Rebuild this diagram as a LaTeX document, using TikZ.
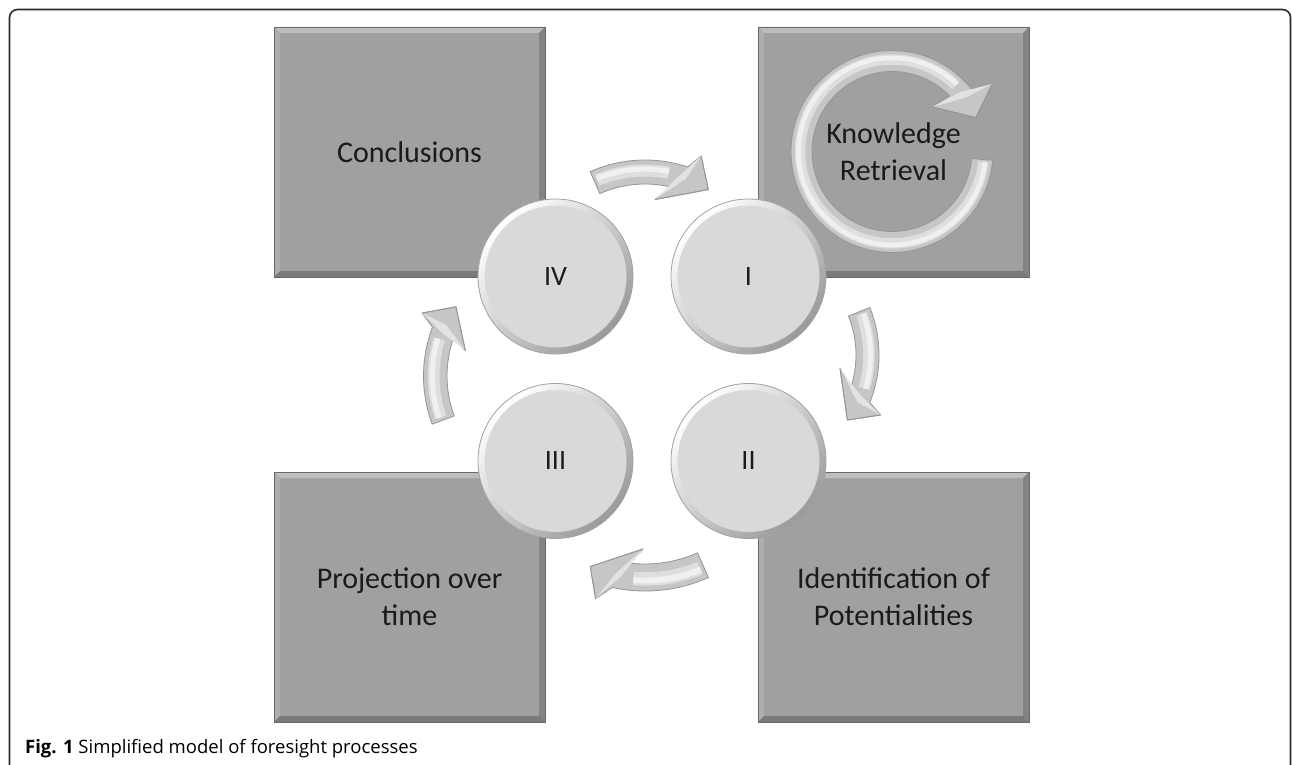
\documentclass[tikz,border=0pt]{standalone}
\usepackage{fontspec}
\setmainfont{Carlito}
\newfontfamily\capfont{Open Sans}
\usetikzlibrary{calc}
\definecolor{sqfill}{HTML}{A0A0A0}
\definecolor{sqedge}{HTML}{6A6A6A}
\definecolor{sqlight}{HTML}{BDBDBD}
\definecolor{sqlightb}{HTML}{AEAEAE}
\definecolor{sqdark}{HTML}{7A7A7A}
\definecolor{sqdarkb}{HTML}{838383}
\definecolor{cfill}{HTML}{D9D9D9}
\definecolor{cedge}{HTML}{A2A2A2}
\definecolor{rimdark}{HTML}{9A9A9A}
\definecolor{afill}{HTML}{C6C6C6}
\definecolor{aedge}{HTML}{959595}
\definecolor{ahigh}{HTML}{DEDEDE}
\definecolor{ahightwo}{HTML}{F0F0F0}
\definecolor{afacet}{HTML}{E2E2E2}
\definecolor{txt}{HTML}{1A1A1A}
\definecolor{framecol}{HTML}{2B2B2B}

\newcommand\bvw{6}
\newcommand\bxt{15}
\newcommand\bevelbox[1]{%
  \fill[sqlight] (#1.north west) -- (#1.north east) -- ([shift={(-\bvw,\bvw)}]#1.north east) -- ([shift={(\bvw,\bvw)}]#1.north west) -- cycle;
  \fill[sqlightb] (#1.north west) -- ([shift={(\bvw,\bvw)}]#1.north west) -- ([shift={(\bvw,-\bvw)}]#1.south west) -- (#1.south west) -- cycle;
  \fill[sqdark] (#1.south west) -- ([shift={(\bvw,-\bvw)}]#1.south west) -- ([shift={(-\bvw,-\bvw)}]#1.south east) -- (#1.south east) -- cycle;
  \fill[sqdarkb] (#1.north east) -- (#1.south east) -- ([shift={(-\bvw,-\bvw)}]#1.south east) -- ([shift={(-\bvw,\bvw)}]#1.north east) -- cycle;
  \draw[sqedge, line width=0.9pt] (#1.north west) rectangle (#1.south east);
}
\newcommand\rimc[1]{%
  \shade[even odd rule, top color=white, bottom color=rimdark, shading angle=45]
    (#1.center) circle[radius=77.5] (#1.center) circle[radius=71];
  \draw[cedge, line width=0.8pt] (#1.center) circle[radius=77.5];
}
% #1 centre, #2 inner r, #3 outer r, #4 tail angle, #5 outer junction, #6 inner junction,
% #7 tip angle, #8 outer barb angle, #9 inner barb angle
\newcommand\circarr[9]{%
  \begin{scope}[shift={#1}]
    \path[arrbody] ({#4}:#3) arc[start angle=#4, end angle=#5, radius=#3]
      -- ({#8}:{#3+\bxt}) -- ({#7}:{(#2+#3)/2}) -- ({#9}:{#2-\bxt})
      -- ({#6}:#2) arc[start angle=#6, end angle=#4, radius=#2] -- cycle;
    \fill[afacet] ({#8}:{#3+\bxt}) -- ({(#5+#6)/2}:{(#2+#3)/2}) -- ({#9}:{#2-\bxt}) -- ({#6+(#7-#6)*0.35}:{(#2+#3)/2}) -- cycle;
    \draw[aedge, line width=0.8pt, line join=round] ({#8}:{#3+\bxt}) -- ({#7}:{(#2+#3)/2}) -- ({#9}:{#2-\bxt});
    \draw[ahigh, line width={0.5*(#3-#2)}] ({#4+1.5}:{(#2+#3)/2+1.5}) arc[start angle=#4+1.5, end angle=#6-2, radius={(#2+#3)/2+1.5}];
    \draw[ahightwo, line width={0.22*(#3-#2)}] ({#4+1.5}:{(#2+#3)/2+3}) arc[start angle=#4+1.5, end angle=#6-2, radius={(#2+#3)/2+3}];
  \end{scope}
}

\begin{document}
\begin{tikzpicture}[x=1pt, y=-1pt,
  sq/.style={rectangle, fill=sqfill, minimum width=271pt, minimum height=250pt,
    inner sep=0pt, outer sep=0pt, align=center, text=txt, font=\fontsize{30}{37}\selectfont},
  circ/.style={circle, fill=cfill, minimum size=155pt, inner sep=0pt, outer sep=0pt,
    text=txt, font=\fontsize{28}{34}\selectfont},
  arrbody/.style={fill=afill, draw=aedge, line width=0.8pt, line join=round},
  framestyle/.style={draw=framecol, line width=1.6pt, rounded corners=8pt}]
\useasboundingbox (0,0) rectangle (1292,765);
\clip (0,0) rectangle (1292,765);
\fill[white] (0,0) rectangle (1292,765);
\draw[framestyle] (9.5,800) -- (9.5,9.5) -- (1290.5,9.5) -- (1290.5,800);

% squares
\node[sq] (sqC) at (409.5,152) {Conclusions};
\node[sq] (sqK) at (893.5,152) {Knowledge\\Retrieval};
\node[sq] (sqP) at (409.5,597) {Projection over\\time};
\node[sq] (sqI) at (893.5,597) {Identification of\\Potentialities};
\bevelbox{sqC}
\bevelbox{sqK}
\bevelbox{sqP}
\bevelbox{sqI}

% ring arrow in Knowledge Retrieval
\renewcommand\bxt{20}
\circarr{(892,151.5)}{80}{101}{5}{322}{316}{338}{326}{312}
\renewcommand\bxt{15}

% circles
\node[circ] (c1) at (748.5,276.5) {I};
\node[circ] (c2) at (748.5,461) {II};
\node[circ] (c3) at (555.5,461) {III};
\node[circ] (c4) at (555.5,276.5) {IV};
\rimc{c1}
\rimc{c2}
\rimc{c3}
\rimc{c4}

% curved block arrows between the circles
\circarr{(645,295)}{111}{135}{-114}{-71.5}{-77}{-59}{-68}{-84}
\circarr{(752,355)}{104}{127}{-22}{22}{18.6}{34.3}{25}{8.7}
\circarr{(645,435)}{129}{156}{66}{102.2}{96.6}{112.6}{106.8}{91}
\circarr{(561,376)}{114}{137.5}{-200.5}{-159.2}{-161.1}{-146.6}{-155.6}{-165.1}

% caption
\node[anchor=base west, inner sep=0pt, text=black, font=\capfont\fontsize{18.5}{22}\selectfont] (cap) at (25,753)
  {\textbf{Fig. 1} Simplified model of foresight processes};
\end{tikzpicture}
\end{document}
